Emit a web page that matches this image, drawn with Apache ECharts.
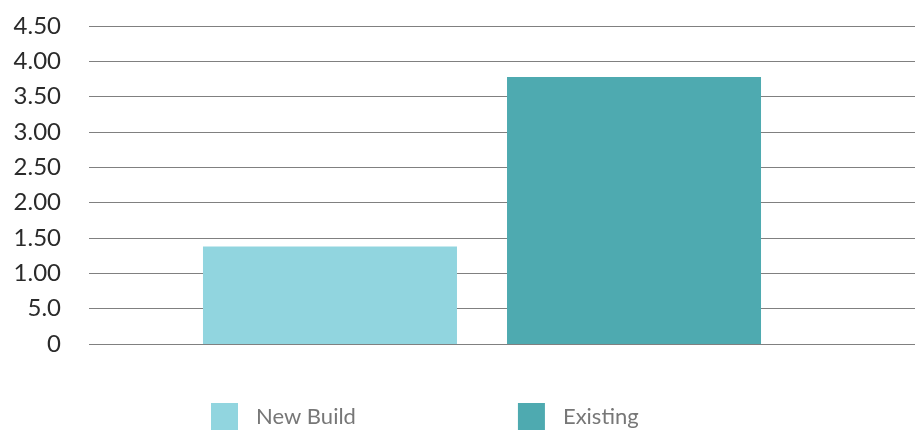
<!DOCTYPE html>
<html><head><meta charset="utf-8">
<script src="https://cdn.jsdelivr.net/npm/echarts@6/dist/echarts.min.js"></script>
<style>html,body{margin:0;padding:0;background:#fff}#c{width:915px;height:433px}</style>
</head><body><div id="c"></div>
<script>
var categories = [''];
var seriesNames = ['New Build', 'Existing'];
var newBuild = [1.38];
var existing = [3.78];
var yTickLabels = ['0', '5.0', '1.00', '1.50', '2.00', '2.50', '3.00', '3.50', '4.00', '4.50'];

var chart = echarts.init(document.getElementById('c'));
var font = 'Lato, "Open Sans", sans-serif';
chart.setOption({
  animation: false,
  grid: [
    {left: 89, right: 0, top: 26, bottom: 89},
    {left: 89, right: 40, top: 26, bottom: 89}
  ],
  legend: {
    left: 211, top: 403, padding: 0,
    itemWidth: 27, itemHeight: 27, itemGap: 162,
    icon: 'rect',
    textStyle: {fontFamily: font, fontSize: 22, color: '#777', padding: [0, 0, 0, 13]},
    data: seriesNames
  },
  xAxis: [
    {gridIndex: 0, type: 'category', data: categories, axisLine: {show: false}, axisTick: {show: false}, axisLabel: {show: false}},
    {gridIndex: 1, type: 'category', data: categories, axisLine: {show: false}, axisTick: {show: false}, axisLabel: {show: false}}
  ],
  yAxis: [
    {gridIndex: 0, type: 'value', min: 0, max: 4.5, interval: 0.5,
     axisLine: {show: false}, axisTick: {show: false},
     splitLine: {lineStyle: {color: '#808080', width: 1}},
     axisLabel: {margin: 28, fontFamily: font, fontSize: 24, color: '#2a2a2a',
       formatter: function (v) { return yTickLabels[Math.round(v / 0.5)]; }}},
    {gridIndex: 1, type: 'value', min: 0, max: 4.5, interval: 0.5,
     axisLine: {show: false}, axisTick: {show: false}, splitLine: {show: false}, axisLabel: {show: false}}
  ],
  series: [
    {name: seriesNames[0], type: 'bar', xAxisIndex: 1, yAxisIndex: 1, data: newBuild, barWidth: 254, barGap: '19.7%',
     itemStyle: {color: '#91d5df'}},
    {name: seriesNames[1], type: 'bar', xAxisIndex: 1, yAxisIndex: 1, data: existing, barWidth: 254, barGap: '19.7%',
     itemStyle: {color: '#4eaab0'}}
  ]
});
</script></body></html>
